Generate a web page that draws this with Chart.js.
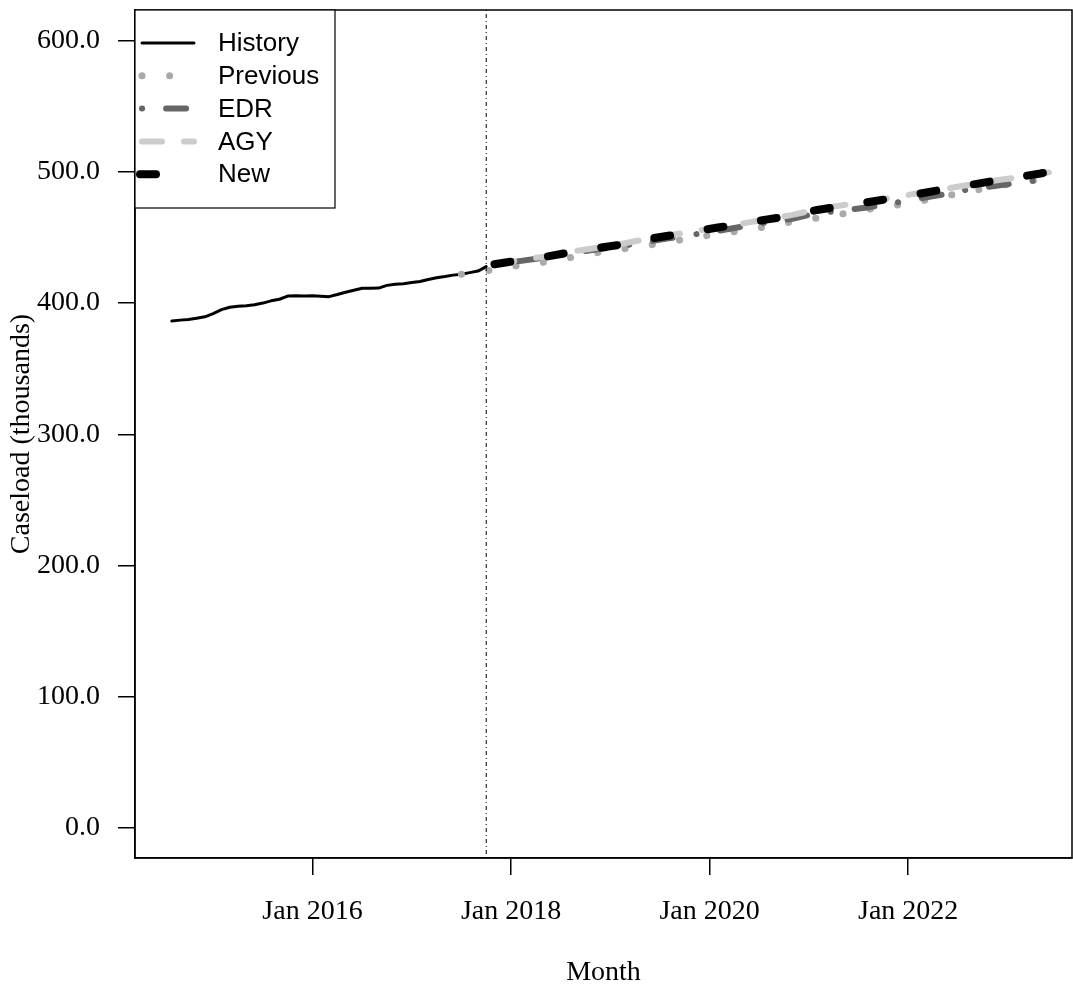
<!DOCTYPE html>
<html>
<head>
<meta charset="utf-8">
<script src="https://cdn.jsdelivr.net/npm/chart.js@4.4.1/dist/chart.umd.min.js"></script>
<style>
    html, body { margin: 0; padding: 0; background: #fff; }
    #wrap { width: 1073px; height: 987px; }
</style>
</head>
<body>
<div id="wrap"><canvas id="caseChart"></canvas></div>
<script>
// Caseload forecasts (thousands), months as 'YYYY-MM'
const historyStart = '2014-08';
const historyValues = [
    386.3, 387.0, 387.5, 388.5, 389.5, 392.0, 395.0, 396.8, 397.5, 398.0,
    398.7, 400.0, 401.7, 402.9, 405.3, 405.5, 405.4, 405.5, 405.2, 404.9,
    406.5, 408.3, 409.8, 411.3, 411.3, 411.4, 413.5, 414.3, 414.8, 415.7,
    416.4, 418.0, 419.3, 420.2, 421.3, 422.0, 423.2, 424.4, 427.8
];

const forecastMonths = [
    '2017-11', '2018-02', '2018-05', '2018-08', '2018-11', '2019-02', '2019-05', '2019-08',
    '2019-11', '2020-02', '2020-05', '2020-08', '2020-11', '2021-02', '2021-05', '2021-08',
    '2021-11', '2022-02', '2022-05', '2022-08', '2022-11', '2023-02', '2023-05', '2023-06'
];
const previousMonths = ['2017-07', ...forecastMonths];

const previousValues = [
    422.0, 425.4, 428.9, 431.2, 434.5, 438.0, 440.8, 443.5, 446.5, 449.8, 452.7, 455.3, 458.4,
    462.1, 464.8, 467.9, 471.3, 474.0, 477.1, 481.0, 484.6, 488.2, 491.4, 494.2, 495.0
];
const edrValues = [
    429.0, 432.0, 434.6, 437.8, 440.6, 443.2, 446.2, 449.3, 452.2, 455.0, 458.4, 461.6,
    464.2, 468.6, 470.5, 472.8, 476.0, 479.4, 482.5, 486.3, 488.8, 491.5, 494.0, 495.0
];
const agyValues = [
    429.8, 432.6, 435.4, 438.9, 441.8, 444.6, 448.4, 451.6, 454.6, 457.9, 460.7, 464.0,
    467.2, 471.5, 474.6, 477.3, 480.2, 483.5, 486.6, 489.8, 493.0, 495.6, 498.6, 499.6
];
const newValues = [
    429.6, 432.5, 435.1, 438.5, 441.5, 444.3, 448.3, 451.3, 454.5, 457.6, 460.5, 463.8,
    466.8, 471.0, 473.8, 476.8, 479.8, 483.0, 486.4, 489.5, 492.8, 495.8, 498.8, 500.0
];

const cutoffMonth = '2017-10';
const xTickMonths = ['2016-01', '2018-01', '2020-01', '2022-01'];
const xTickLabels = ['Jan 2016', 'Jan 2018', 'Jan 2020', 'Jan 2022'];
const yTickValues = [0, 100, 200, 300, 400, 500, 600];

// month index relative to Jan 2016
const monthIdx = (s) => {
    const [y, m] = s.split('-').map(Number);
    return (y - 2016) * 12 + (m - 1);
};
const pairs = (months, vals) => vals.map((v, i) => ({ x: monthIdx(months[i]), y: v }));

const histStartIdx = monthIdx(historyStart);
const historyData = historyValues.map((v, i) => ({ x: histStartIdx + i, y: v }));

const serif = "'Liberation Serif', 'Times New Roman', serif";
const sans = "'Liberation Sans', Arial, sans-serif";

const datasets = [
    { label: 'New', data: pairs(forecastMonths, newValues), borderColor: '#000000',
      borderWidth: 8, borderDash: [16, 38], order: 0 },
    { label: 'AGY', data: pairs(forecastMonths, agyValues), borderColor: '#cccccc',
      borderWidth: 6, borderDash: [20, 22], order: 1 },
    { label: 'EDR', data: pairs(forecastMonths, edrValues), borderColor: '#666666',
      borderWidth: 6, borderDash: [0.1, 24, 20, 24], order: 2 },
    { label: 'Previous', data: pairs(previousMonths, previousValues), borderColor: '#aaaaaa',
      borderWidth: 7, borderDash: [0.1, 27.5], order: 3 },
    { label: 'History', data: historyData, borderColor: '#000000',
      borderWidth: 3, borderDash: [], order: 4 }
];
datasets.forEach(d => {
    d.fill = false;
    d.tension = 0;
    d.pointRadius = 0;
    d.borderCapStyle = 'round';
    d.borderJoinStyle = 'round';
});

// legend order as in the figure
const legendOrder = ['History', 'Previous', 'EDR', 'AGY', 'New'];

const framePlugin = {
    id: 'frame',
    afterDatasetsDraw(chart) {
        const { ctx, chartArea: a, scales } = chart;
        ctx.save();

        // vertical cutoff line
        const cx = scales.x.getPixelForValue(monthIdx(cutoffMonth));
        ctx.strokeStyle = '#000';
        ctx.lineWidth = 1;
        ctx.setLineDash([1, 3, 4, 3]);
        ctx.beginPath();
        ctx.moveTo(cx, a.top);
        ctx.lineTo(cx, a.bottom);
        ctx.stroke();
        ctx.setLineDash([]);

        // box round the plot
        ctx.lineWidth = 1.5;
        ctx.strokeRect(a.left, a.top, a.right - a.left, a.bottom - a.top);

        // legend
        const lx = a.left, ly = a.top;
        ctx.fillStyle = '#fff';
        ctx.fillRect(lx, ly, 200, 198);
        ctx.lineWidth = 1.2;
        ctx.strokeStyle = '#000';
        ctx.strokeRect(lx, ly, 200, 198);
        ctx.font = '26px ' + sans;
        ctx.textBaseline = 'middle';
        ctx.textAlign = 'left';
        legendOrder.forEach((name, i) => {
            const ds = chart.data.datasets.find(d => d.label === name);
            const y = ly + 33 + i * 32.8;
            ctx.strokeStyle = ds.borderColor;
            ctx.lineWidth = ds.borderWidth;
            ctx.lineCap = 'round';
            ctx.setLineDash(ds.borderDash);
            ctx.beginPath();
            if (name === 'New') {
                ctx.moveTo(lx + 5, y);
                ctx.lineTo(lx + 28, y);
            } else {
                ctx.moveTo(lx + 7, y);
                ctx.lineTo(lx + 59, y);
            }
            ctx.stroke();
            ctx.setLineDash([]);
            ctx.fillStyle = '#000';
            ctx.fillText(name, lx + 83, y + 1);
        });

        // axis titles
        ctx.fillStyle = '#000';
        ctx.font = '28px ' + serif;
        ctx.textAlign = 'center';
        ctx.fillText('Month', (a.left + a.right) / 2, 973);
        ctx.translate(22, (a.top + a.bottom) / 2);
        ctx.rotate(-Math.PI / 2);
        ctx.fillText('Caseload (thousands)', 0, 0);
        ctx.restore();
    }
};

new Chart(document.getElementById('caseChart'), {
    type: 'line',
    data: { datasets },
    options: {
        responsive: true,
        maintainAspectRatio: false,
        animation: false,
        layout: { padding: { top: 10, right: 1, left: 0, bottom: 0 } },
        plugins: { legend: { display: false }, tooltip: { enabled: false } },
        scales: {
            x: {
                type: 'linear',
                min: -21.45,
                max: 91.8,
                grid: { drawOnChartArea: false, drawTicks: true, tickLength: 17, color: '#000', lineWidth: 1.5 },
                border: { display: true, color: '#000', width: 1.5 },
                afterBuildTicks: (s) => { s.ticks = xTickMonths.map(m => ({ value: monthIdx(m) })); },
                afterFit: (s) => { s.height = 129; s.paddingLeft = 0; s.paddingRight = 0; },
                ticks: {
                    autoSkip: false,
                    maxRotation: 0,
                    padding: 20,
                    color: '#000',
                    font: { family: serif, size: 28 },
                    callback: (v) => xTickLabels[xTickMonths.map(monthIdx).indexOf(v)]
                }
            },
            y: {
                min: -23,
                max: 623.4,
                grid: { drawOnChartArea: false, drawTicks: true, tickLength: 17, color: '#000', lineWidth: 1.5 },
                border: { display: true, color: '#000', width: 1.5 },
                afterBuildTicks: (s) => { s.ticks = yTickValues.map(v => ({ value: v })); },
                afterFit: (s) => { s.width = 135; s.paddingTop = 0; s.paddingBottom = 0; },
                ticks: {
                    padding: 18,
                    color: '#000',
                    font: { family: serif, size: 28 },
                    callback: (v) => v.toFixed(1)
                }
            }
        }
    },
    plugins: [framePlugin]
});
</script>
</body>
</html>
